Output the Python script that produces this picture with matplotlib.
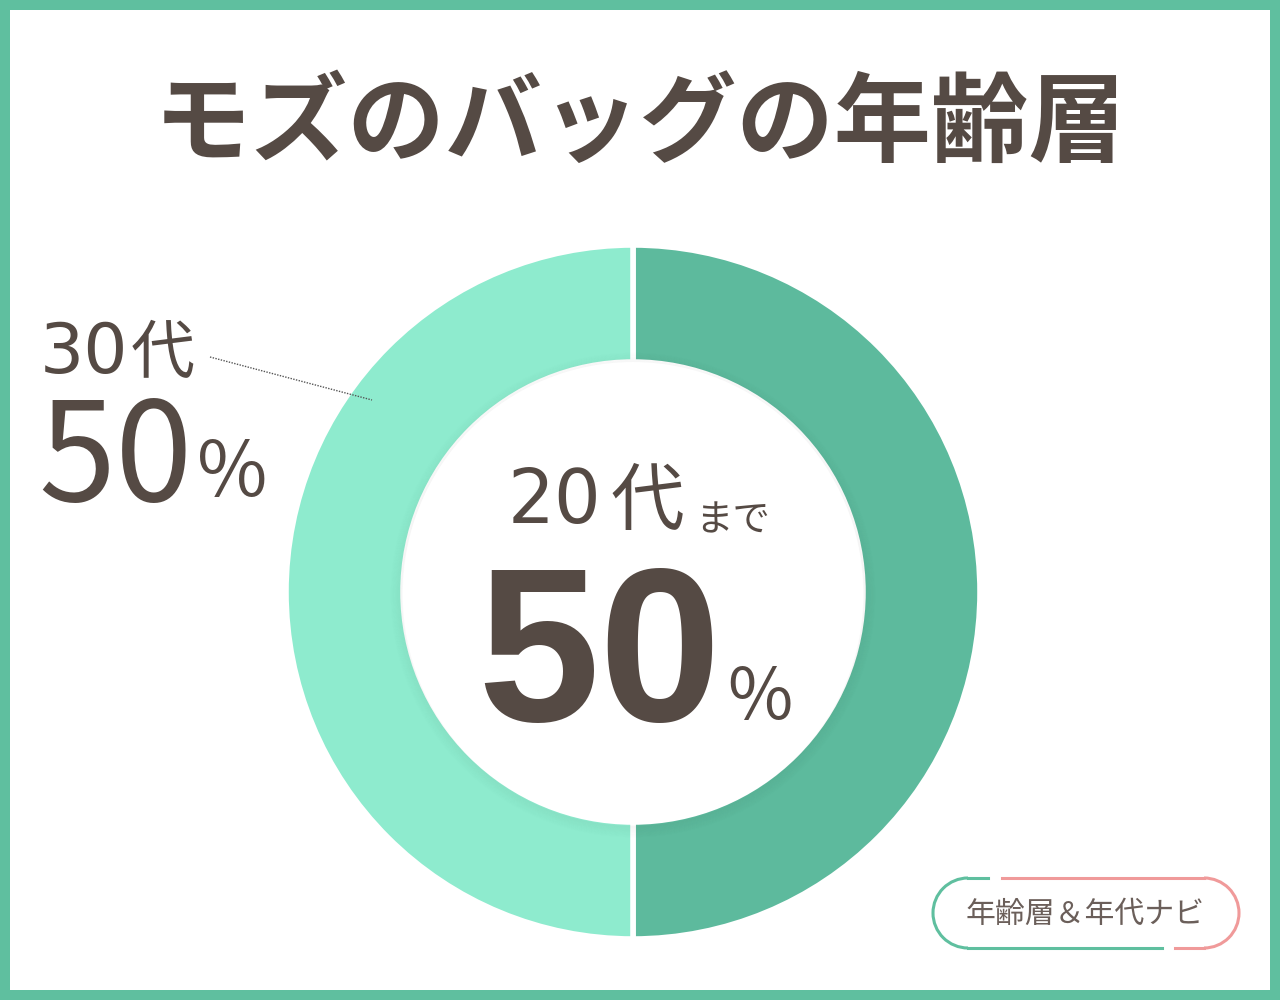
import numpy as np
import matplotlib.pyplot as plt
from matplotlib.patches import Rectangle, Circle, Arc

plt.rcParams['font.family'] = ['Noto Sans CJK JP', 'DejaVu Sans']

# データ
labels = ["20代まで", "30代"]
values = [50, 50]
colors = ["#5DBA9D", "#8EEBCE"]

title = "モズのバッグの年齢層"
badge_text = "年齢層＆年代ナビ"

TEXT = "#554A44"
W, H = 1280, 1000
DIGITS = ['DejaVu Sans', 'Noto Sans CJK JP']


def py(y):
    # 画像座標(上から) -> 軸座標(下から)
    return H - y


fig = plt.figure(figsize=(12.8, 10), dpi=100)
fig.patch.set_facecolor("#5FBF9F")
ax = fig.add_axes([0, 0, 1, 1])
ax.set_xlim(0, W)
ax.set_ylim(0, H)
ax.set_aspect("equal")
ax.axis("off")

ax.add_patch(Rectangle((10, 10), W - 20, H - 20, facecolor="white", edgecolor="none", zorder=0))

cx, cy = 633, py(592)
r_out, r_in = 347, 230

ax.pie(values, colors=colors, startangle=90, counterclock=False,
       center=(cx, cy), radius=r_out, frame=True,
       wedgeprops=dict(width=r_out - r_in, edgecolor="white", linewidth=4))
ax.set_xlim(0, W)
ax.set_ylim(0, H)
ax.axis("off")

# 内側の影
for k in range(14):
    ax.add_patch(Circle((cx, cy - 3), r_in + 1 + k * 0.9, facecolor="none",
                        edgecolor="black", linewidth=1.2, alpha=0.022 * (14 - k) / 14, zorder=3))
ax.add_patch(Circle((cx, cy), r_in, facecolor="white", edgecolor="none", zorder=4))

# タイトル
ax.text(640, py(125), title, ha="center", va="center", fontsize=70,
        fontweight="bold", color=TEXT, zorder=5)

# 中央ラベル
ax.text(508, py(503), "20", ha="left", va="center", fontsize=53, color=TEXT,
        family=DIGITS, zorder=5)
ax.text(647, py(503), "代", ha="center", va="center", fontsize=53, color=TEXT, zorder=5)
ax.text(733, py(521), "まで", ha="center", va="center", fontsize=27, color=TEXT, zorder=5)
ax.text(599, py(664), f"{values[0]}", ha="center", va="center", fontsize=158,
        fontweight="bold", color=TEXT, family=['Liberation Sans', 'DejaVu Sans'], zorder=5)
ax.text(760, py(698), "%", ha="center", va="center", fontsize=51,
        color=TEXT, zorder=5)

# 左ラベル
ax.text(40, py(354), "30", ha="left", va="center", fontsize=50, color=TEXT,
        family=DIGITS, zorder=5)
ax.text(163, py(355), "代", ha="center", va="center", fontsize=46, color=TEXT, zorder=5)
ax.text(38, py(462), f"{values[1]}", ha="left", va="center", fontsize=100, color=TEXT, zorder=5)
ax.text(232, py(474), "%", ha="center", va="center", fontsize=55, color=TEXT, zorder=5)
ax.plot([210, 372], [py(357), py(400)], color="#555555", linestyle=(0, (1, 1)),
        linewidth=1, zorder=5)

# バッジ
green, pink = "#5FBF9F", "#F09A9A"
bx0, bx1, by0, by1 = 933, 1239, 878, 948
rr = (by1 - by0) / 2
bcy = py((by0 + by1) / 2)
lw = 2.2
ax.add_patch(Arc((bx0 + rr, bcy), 2 * rr, 2 * rr, theta1=90, theta2=270,
                 color=green, linewidth=lw, zorder=5))
ax.add_patch(Arc((bx1 - rr, bcy), 2 * rr, 2 * rr, theta1=-90, theta2=90,
                 color=pink, linewidth=lw, zorder=5))
ax.plot([bx0 + rr, 988], [py(by0), py(by0)], color=green, linewidth=lw, zorder=5)
ax.plot([1002, bx1 - rr], [py(by0), py(by0)], color=pink, linewidth=lw, zorder=5)
ax.plot([bx0 + rr, 1162], [py(by1), py(by1)], color=green, linewidth=lw, zorder=5)
ax.plot([1175, bx1 - rr], [py(by1), py(by1)], color=pink, linewidth=lw, zorder=5)
ax.text(1085, py(914), badge_text, ha="center", va="center", fontsize=21.5,
        color="#6B5F5A", zorder=5)

fig.savefig("out.png", dpi=100, facecolor=fig.get_facecolor())
